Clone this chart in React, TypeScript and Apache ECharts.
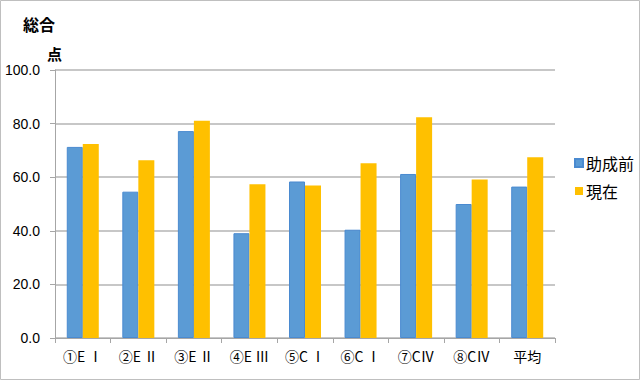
import React, { useEffect, useRef } from "react";
import * as echarts from "echarts";

const categories = ["①E Ⅰ", "②E Ⅱ", "③E Ⅱ", "④E Ⅲ", "⑤C Ⅰ", "⑥C Ⅰ", "⑦CⅣ", "⑧CⅣ", "平均"];
const beforeValues = [71.3, 54.6, 77.2, 39.1, 58.4, 40.4, 61.2, 50.0, 56.5];
const currentValues = [72.4, 66.3, 81.1, 57.4, 56.9, 65.2, 82.4, 59.1, 67.4];
const seriesNames = ["助成前", "現在"];
const titleText = "総合";
const unitText = "点";

const FONT = "'Liberation Sans', 'Noto Sans CJK JP', sans-serif";

export default function App() {
  const ref = useRef<HTMLDivElement>(null);
  useEffect(() => {
    if (!ref.current) return;
    const chart = echarts.init(ref.current, undefined, { renderer: "svg" });
    chart.setOption({
      animation: false,
      backgroundColor: "#ffffff",
      textStyle: { fontFamily: FONT },
      graphic: [
        {
          type: "rect",
          shape: { x: 0.5, y: 0.5, width: 639, height: 379 },
          style: { fill: "none", stroke: "#bfbfbf", lineWidth: 1 },
          silent: true,
        },
        {
          type: "text",
          left: 23,
          top: 16,
          style: { text: titleText, font: "bold 16px 'Noto Sans CJK JP', sans-serif", fill: "#000" },
        },
        {
          type: "text",
          left: 47,
          top: 46,
          style: { text: unitText, font: "bold 15px 'Noto Sans CJK JP', sans-serif", fill: "#000" },
        },
      ],
      legend: {
        orient: "vertical",
        left: 569,
        top: 150,
        itemWidth: 8,
        itemHeight: 8,
        itemGap: 12,
        icon: "rect",
        textStyle: { fontSize: 16, color: "#000", fontFamily: "'Noto Sans CJK JP', sans-serif", padding: [0, 0, 0, -2] },
        data: seriesNames,
      },
      grid: { left: 55, right: 85, top: 70, bottom: 42, containLabel: false },
      xAxis: {
        type: "category",
        data: categories,
        boundaryGap: true,
        axisLine: { lineStyle: { color: "#a6a6a6", width: 1 } },
        axisTick: { show: true, length: 5, lineStyle: { color: "#a6a6a6" } },
        axisLabel: { fontSize: 14, color: "#000", margin: 11, fontFamily: "'Noto Sans CJK JP', sans-serif", interval: 0 },
      },
      yAxis: {
        type: "value",
        min: 0,
        max: 100,
        interval: 20,
        axisLine: { show: true, lineStyle: { color: "#a6a6a6", width: 1 } },
        axisTick: { show: true, length: 5, lineStyle: { color: "#a6a6a6" } },
        splitLine: { show: true, lineStyle: { color: "#b4b4b4", width: 1.5 } },
        axisLabel: {
          fontSize: 14,
          color: "#000",
          margin: 15,
          formatter: (v: number) => v.toFixed(1),
        },
      },
      series: [
        {
          name: seriesNames[0],
          type: "bar",
          data: beforeValues,
          barWidth: 16,
          barGap: "0%",
          itemStyle: { color: "#5b9bd5", borderColor: "#4a8ad0", borderWidth: 1 },
        },
        {
          name: seriesNames[1],
          type: "bar",
          data: currentValues,
          barWidth: 16,
          barGap: "0%",
          itemStyle: { color: "#ffc000", borderColor: "#ffc000", borderWidth: 0 },
        },
      ],
    });
    return () => chart.dispose();
  }, []);
  return (
    <div
      ref={ref}
      style={{ position: "fixed", left: 0, top: 0, width: 640, height: 380 }}
    />
  );
}
